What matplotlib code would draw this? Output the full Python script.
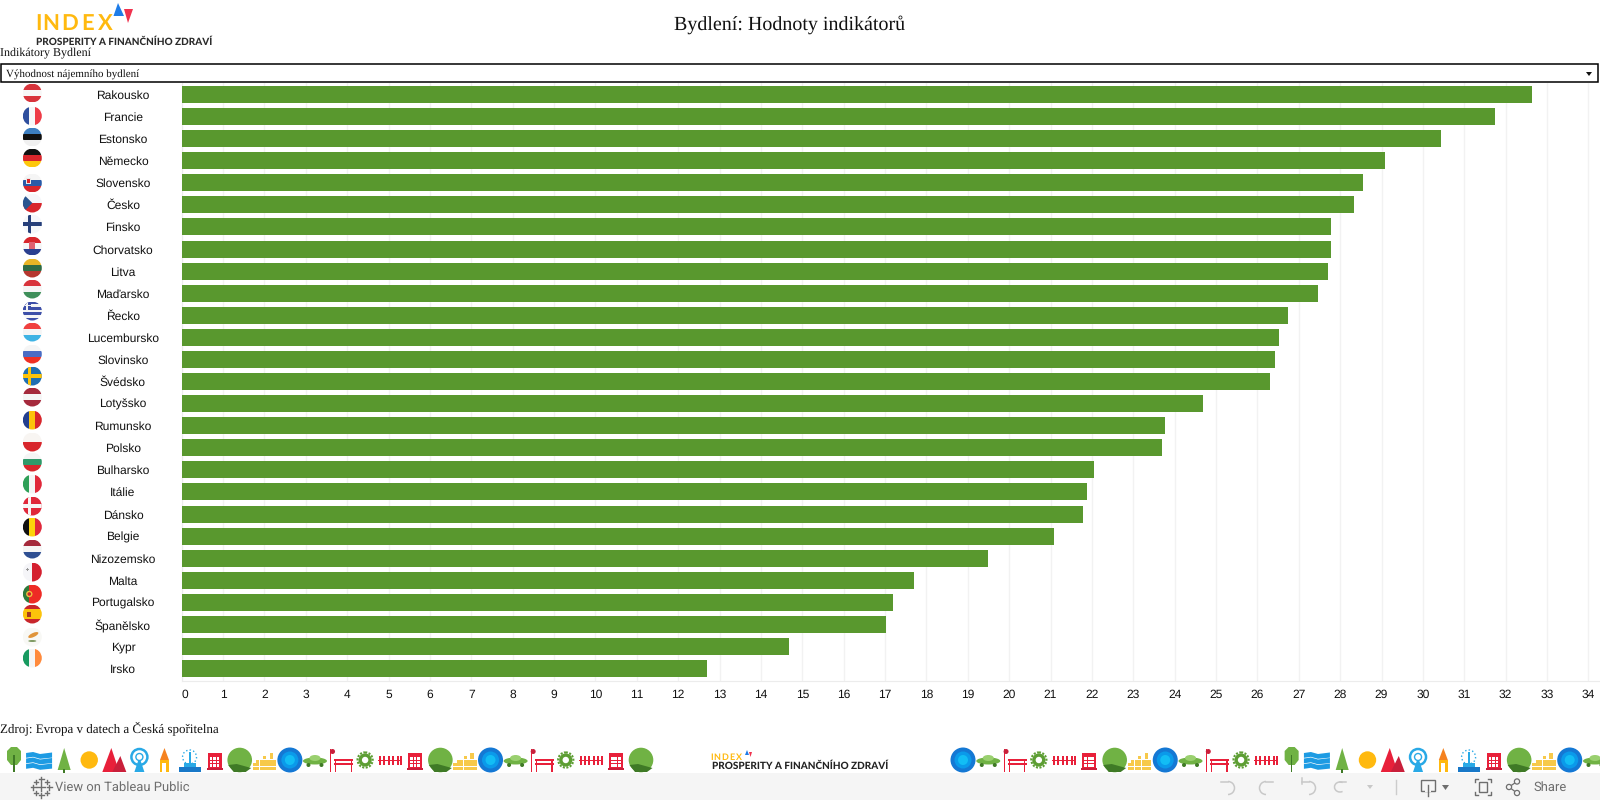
import matplotlib
matplotlib.use("Agg")
import matplotlib.pyplot as plt
from matplotlib.patches import Arc, Circle, Rectangle, Polygon, Ellipse

plt.rcParams["text.hinting"] = "none"
plt.rcParams["text.hinting_factor"] = 1

countries = ["Rakousko", "Francie", "Estonsko", "Německo", "Slovensko", "Česko", "Finsko",
             "Chorvatsko", "Litva", "Maďarsko", "Řecko", "Lucembursko", "Slovinsko", "Švédsko",
             "Lotyšsko", "Rumunsko", "Polsko", "Bulharsko", "Itálie", "Dánsko", "Belgie",
             "Nizozemsko", "Malta", "Portugalsko", "Španělsko", "Kypr", "Irsko"]
values = [32.63, 31.74, 30.43, 29.08, 28.55, 28.33, 27.79, 27.79, 27.70, 27.47, 26.73, 26.53, 26.43,
          26.31, 24.68, 23.77, 23.70, 22.04, 21.87, 21.78, 21.08, 19.48, 17.70, 17.18, 17.03, 14.67, 12.70]
x_ticks = list(range(0, 35))

# flag: (center y in px, stripe direction, stripe colours, extra)
flags = [
    (93, "h", ["#d8343c", "#f7f7f7", "#d8343c"], None),
    (116, "v", ["#2f4f9e", "#f7f7f7", "#ee3b46"], None),
    (137, "h", ["#3d7fc1", "#111111", "#f0f0f0"], None),
    (158, "h", ["#111111", "#d8262c", "#fdc70c"], None),
    (183, "h", ["#f5f5f5", "#2a5ba8", "#d8262c"], "shield_sk"),
    (203, "h", ["#f5f7fa", "#d8262c"], "wedge"),
    (224, "h", ["#f5f7fa"], "cross_fi"),
    (246, "h", ["#d8262c", "#f5f5f5", "#2a3f8f"], "shield_hr"),
    (268, "h", ["#e8b426", "#2f6b45", "#b5372f"], None),
    (289, "h", ["#d8343c", "#f5f5f5", "#3f8f5a"], None),
    (311, "h", ["#3d4fa8", "#f5f5f5", "#3d4fa8", "#f5f5f5", "#3d4fa8", "#f5f5f5", "#3d4fa8"], "canton"),
    (332, "h", ["#f0403f", "#f5f5f5", "#3fb3e4"], None),
    (354, "h", ["#f5f5f5", "#4a6cc4", "#ee3024"], None),
    (376, "h", ["#1f6fb2"], "cross_se"),
    (397, "h", ["#a52a3c", "#f5f5f5", "#a52a3c"], None),
    (420, "v", ["#233f8f", "#fcc30b", "#d8262c"], None),
    (442, "h", ["#f8f5f2", "#d8262c"], None),
    (462, "h", ["#f5f5f5", "#2f9a6a", "#d8262c"], None),
    (484, "v", ["#2fa058", "#f5f5f5", "#e0283a"], None),
    (506, "h", ["#e0283a"], "cross_dk"),
    (527, "v", ["#111111", "#fcd20b", "#e0283a"], None),
    (549, "h", ["#a52a3c", "#f5f5f5", "#2f4f92"], None),
    (572, "v", ["#f5f5f8", "#d4202f"], "malta"),
    (594, "v", ["#2f7a3a", "#ee2b25", "#ee2b25"], "arms_pt"),
    (614, "h", ["#c8262c", "#fcc30b", "#fcc30b", "#c8262c"], "arms_es"),
    (637, "h", ["#f8f8f5"], "cyprus"),
    (658, "v", ["#189a60", "#f5f5f5", "#ff8a3c"], None),
]

strip_left = ["tree", "wave", "pine", "sun", "peaks", "ferris", "tower", "fountain", "phone", "hill",
              "dots", "pond", "car", "bench", "gear", "fence", "phone", "hill", "dots", "pond", "car",
              "bench", "gear", "fence", "phone", "hill"]
strip_right = ["pond", "car", "bench", "gear", "fence", "phone", "hill", "dots", "pond", "car", "bench",
               "gear", "fence", "tree", "wave", "pine", "sun", "peaks", "ferris", "tower", "fountain",
               "phone", "hill", "dots", "pond", "car"]

GREEN = "#59982e"
RED = "#e8203a"
BLUE = "#29a9e6"
YEL = "#ffb90f"
LEAF = "#70b244"
SERIF = "Liberation Serif"
SANS = "Liberation Sans"

fig = plt.figure(figsize=(16, 8), dpi=100, facecolor="white")

# main chart, axes placed in reference pixels
ax = fig.add_axes([181.7 / 1600, (800 - 681) / 800, (1600 - 181.7) / 1600, 598 / 800])
ypos = list(range(len(countries)))
ax.barh(ypos, values, height=0.77, color=GREEN, zorder=3)
ax.set_xlim(0, 34.28)
ax.set_ylim(26.56, -0.52)
ax.set_xticks(x_ticks)
ax.set_yticks(ypos)
ax.set_yticklabels(countries, ha="center", va="center_baseline", fontfamily=SANS, fontsize=8.9, color="#111111")
ax.tick_params(axis="y", length=0, pad=42.3)
ax.tick_params(axis="x", length=0, pad=6, labelsize=8.6, labelcolor="#111111")
for lab in ax.get_xticklabels():
    lab.set_fontfamily(SANS)
ax.get_xticklabels()[0].set_ha("left")
ax.grid(axis="x", color="#f2f2f2", lw=1, zorder=0)
for s in ["top", "right"]:
    ax.spines[s].set_visible(False)
for s in ["left", "bottom"]:
    ax.spines[s].set_color("#ececec")

# everything else is page furniture, drawn in pixel coords
pg = fig.add_axes([0, 0, 1, 1], facecolor="none")
pg.set_xlim(0, 1600)
pg.set_ylim(800, 0)
pg.axis("off")


def flag(cy, direction, cols, extra, cx=32.3, r=9.5):
    clip = Circle((cx, cy), r, transform=pg.transData)
    parts = []
    n = len(cols)
    for i, c in enumerate(cols):
        if direction == "h":
            parts.append(Rectangle((cx - r, cy - r + i * 2 * r / n), 2 * r, 2 * r / n, color=c, lw=0))
        else:
            parts.append(Rectangle((cx - r + i * 2 * r / n, cy - r), 2 * r / n, 2 * r, color=c, lw=0))
    if extra == "shield_sk":
        parts.append(Rectangle((cx - 6, cy - 5), 4.5, 6, color="#e8e8e8", lw=0))
        parts.append(Rectangle((cx - 5.2, cy - 4.2), 3, 4.4, color="#d8262c", lw=0))
    if extra == "shield_hr":
        parts.append(Rectangle((cx - 3, cy - 4), 6, 7, color="#e06070", lw=0))
    if extra == "canton":
        parts.append(Rectangle((cx - r, cy - r), 8, 8, color="#3d4fa8", lw=0))
        parts.append(Rectangle((cx - r, cy - r + 3), 8, 1.6, color="#f5f5f5", lw=0))
        parts.append(Rectangle((cx - r + 3.2, cy - r), 1.6, 8, color="#f5f5f5", lw=0))
    if extra == "wedge":
        parts.append(Polygon([(cx - r, cy - r), (cx, cy), (cx - r, cy + r)], color="#2a5590", lw=0))
    if extra in ("cross_fi", "cross_se", "cross_dk"):
        c = {"cross_fi": "#263f7a", "cross_se": "#fcc30b", "cross_dk": "#f5f5f5"}[extra]
        parts.append(Rectangle((cx - r, cy - 1.6), 2 * r, 3.2, color=c, lw=0))
        parts.append(Rectangle((cx - 4.5, cy - r), 3.2, 2 * r, color=c, lw=0))
    if extra == "malta":
        parts.append(Rectangle((cx - 6.5, cy - 3), 3, 1, color="#999999", lw=0))
        parts.append(Rectangle((cx - 5.5, cy - 4), 1, 3, color="#999999", lw=0))
    if extra == "arms_pt":
        parts.append(Circle((cx - 3, cy), 3.2, color="#f0c040", lw=0))
        parts.append(Circle((cx - 3, cy), 1.8, color="#c8262c", lw=0))
    if extra == "arms_es":
        parts.append(Rectangle((cx - 5.5, cy - 2.5), 4, 5, color="#a83a20", lw=0))
    if extra == "cyprus":
        parts.append(Ellipse((cx + 1, cy - 2), 11, 4, angle=-25, color="#e0943a", lw=0))
        parts.append(Ellipse((cx, cy + 4), 8, 2, color="#7f9a62", lw=0))
    for p in parts:
        pg.add_patch(p)
        p.set_clip_path(clip)


for f in flags:
    flag(*f)


def tri(pts, c, z=2):
    pg.add_patch(Polygon(pts, closed=True, color=c, lw=0, zorder=z))


def box(x, y, w, h, c, z=2):
    pg.add_patch(Rectangle((x, y), w, h, color=c, lw=0, zorder=z))


def disc(x, y, r, c, z=2):
    pg.add_patch(Circle((x, y), r, color=c, lw=0, zorder=z))


def icon(kind, x):
    if kind == "tree":
        tri([(x - 7, 751), (x - 3, 747), (x + 3, 747), (x + 7, 751), (x + 7, 760), (x + 3, 765), (x - 3, 765), (x - 7, 760)], LEAF)
        box(x - 0.6, 755, 1.2, 17, "#3f7a26", 3)
    elif kind == "wave":
        for y0 in (753, 758.5, 764):
            tri([(x - 13, y0), (x - 6, y0 - 1), (x + 1, y0 + 1), (x + 13, y0 - 0.5), (x + 13, y0 + 4.6),
                 (x + 1, y0 + 5.8), (x - 6, y0 + 3.8), (x - 13, y0 + 4.8)], "#1d9be3")
    elif kind == "pine":
        tri([(x, 748), (x + 6.5, 770), (x - 6.5, 770)], LEAF)
        box(x - 0.8, 769, 1.6, 4, "#3f7a26")
    elif kind == "sun":
        disc(x, 760, 8.7, YEL)
    elif kind == "peaks":
        tri([(x - 12, 772), (x - 3, 748), (x + 5, 772)], "#e8203a")
        tri([(x - 2, 772), (x + 6, 756), (x + 12, 772)], "#c91f3a")
    elif kind == "ferris":
        pg.add_patch(Circle((x, 757), 8, fill=False, ec=BLUE, lw=1.8, zorder=2))
        disc(x, 757, 3.5, "#ffffff", 3)
        pg.add_patch(Circle((x, 757), 3.5, fill=False, ec=BLUE, lw=1, zorder=3))
        tri([(x - 5, 772), (x - 1, 760), (x + 1, 760), (x + 5, 772)], BLUE)
    elif kind == "tower":
        tri([(x, 748), (x + 4.5, 760), (x - 4.5, 760)], "#f58220")
        box(x - 4.5, 760, 9, 12, YEL)
        box(x - 2, 763, 4, 9, "#ffffff", 3)
    elif kind == "fountain":
        box(x - 11, 767, 22, 5, "#1878c8")
        box(x - 6, 763, 12, 4, BLUE)
        box(x - 1, 752, 2, 11, BLUE)
        pg.add_patch(Circle((x, 757), 7, fill=False, ec=BLUE, lw=1, ls=":", zorder=2))
    elif kind == "phone":
        box(x - 7, 753, 14, 17, "#e8203a")
        box(x - 8, 768, 16, 2, "#c91f3a")
        for yy in (757, 760.5, 764):
            for xx in (-5, -1.5, 2):
                box(x + xx, yy, 2.6, 2.6, "#ffffff", 3)
    elif kind == "hill":
        disc(x, 760, 12.3, LEAF)
        tri([(x - 11.5, 765), (x - 3, 764), (x + 11.5, 768), (x + 6, 772), (x - 6, 772)], "#3f7a26", 3)
    elif kind == "dots":
        for i, h in enumerate((2, 3, 3, 4, 3, 5, 3)):
            for j in range(h):
                box(x - 12 + i * 3.4, 766.5 - j * 3.4, 3.1, 3.1, "#f7c94a")
    elif kind == "pond":
        disc(x, 760, 12.5, "#1478d4")
        disc(x, 760, 8.5, "#0a9aea", 3)
        disc(x, 760, 5, "#12bdf5", 4)
    elif kind == "car":
        pg.add_patch(Ellipse((x, 761), 24, 7, color="#70b244", lw=0, zorder=2))
        pg.add_patch(Ellipse((x, 758), 11, 6, color="#9ad06f", lw=0, zorder=2))
        disc(x - 6.5, 765, 2, "#3f7a26", 3)
        disc(x + 6.5, 765, 2, "#3f7a26", 3)
    elif kind == "bench":
        box(x - 10, 749, 1.3, 23, RED)
        disc(x - 7.5, 751.5, 2.5, "#c91f3a")
        box(x - 6, 759, 19, 2, RED)
        box(x - 6, 763, 19, 2, RED)
        box(x - 5, 760, 1.4, 12, RED)
        box(x + 10.5, 760, 1.4, 12, RED)
    elif kind == "gear":
        pg.add_patch(Circle((x, 760), 7.6, fill=False, ec="#5d9e33", lw=1.5, ls=(0, (1, 0.7)), zorder=2))
        disc(x, 760, 6.6, "#5d9e33")
        disc(x, 760, 3.2, "#ffffff", 3)
    elif kind == "fence":
        box(x - 12, 759.5, 24, 1.8, RED)
        for dx in (-10, -6, -1.5, 3, 7.5, 11):
            box(x + dx - 1, 756, 2, 9, RED)


for i, k in enumerate(strip_left):
    icon(k, 14 + i * 25.08)
for i, k in enumerate(strip_right):
    icon(k, 963 + i * 25.28)
box(0, 772.7, 1600, 27.3, "#f5f5f5", 6)


def logo_word(x0, y, scale):
    # spaced letter by letter, the logo has wide tracking
    for ch, dx in zip("INDEX", (2, 15, 34, 51.5, 69.5)):
        pg.text(x0 + dx * scale, y, ch, family="Lato", weight="bold", fontsize=16 * scale, color=YEL, va="center", ha="center")


# header
pg.text(790, 25, "Bydlení: Hodnoty indikátorů", family=SERIF, fontsize=14.4, ha="center", va="center", color="#111111")
logo_word(36, 24, 1)
tri([(118, 3), (124, 16), (113.5, 16)], "#1e7ce8")
tri([(124, 9), (133, 9), (128, 23)], "#f0324e")
pg.text(35.5, 42, "PROSPERITY A FINANČNÍHO ZDRAVÍ", family="Lato", weight="black", fontsize=7.2,
        color="#2a2a2a", va="center", ha="left")
pg.text(0, 53, "Indikátory Bydlení", family=SERIF, fontsize=8.8, va="center", color="#111111")
pg.add_patch(Rectangle((1.2, 63.5), 1597, 18.5, fill=False, ec="black", lw=1.1))
pg.text(5.5, 74.5, "Výhodnost nájemního bydlení", family=SERIF, fontsize=8.1, va="center", color="#111111")
tri([(1586, 72), (1592, 72), (1589, 76)], "#111111")

# footer
pg.text(0, 728, "Zdroj: Evropa v datech a Česká spořitelna", family=SERIF, fontsize=9.35, va="center", color="#111111")
logo_word(711, 757, 0.4)
tri([(747, 750), (749, 755), (745, 755)], "#1e7ce8")
tri([(749, 752), (752, 752), (750.5, 757)], "#f0324e")
pg.text(712, 766, "PROSPERITY A FINANČNÍHO ZDRAVÍ", family="Lato", weight="black", fontsize=7.55, color="#222222", va="center")

# toolbar
GREY = "#6e6e6e"
LIGHT = "#c8c8c8"
pg.text(55, 787, "View on Tableau Public", family="Roboto", fontsize=9.5, color=GREY, va="center", zorder=8)
pg.text(1533, 787, "Share", family="Roboto", fontsize=9.7, color=GREY, va="center", zorder=8)
for px, py, s in [(41, 787, 4), (41, 779, 2.5), (41, 795, 2.5), (33, 787, 2.5), (49, 787, 2.5),
                  (35.5, 781.5, 2), (46.5, 781.5, 2), (35.5, 792.5, 2), (46.5, 792.5, 2)]:
    pg.plot([px - s, px + s], [py, py], color=GREY, lw=1, zorder=8)
    pg.plot([px, px], [py - s, py + s], color=GREY, lw=1, zorder=8)
# undo, redo, back, forward
for x0, a1, a2 in ((1228, -90, 90), (1266, 90, 270), (1309, -90, 90)):
    pg.add_patch(Arc((x0, 788), 13, 13, theta1=a1, theta2=a2, ec=LIGHT, lw=1.1, zorder=8))
    sign = 1 if a1 == -90 else -1
    pg.plot([x0 - sign * 7, x0], [781.5, 781.5], color=LIGHT, lw=1.1, zorder=8)
pg.plot([1302, 1302], [778, 784], color=LIGHT, lw=1.1, zorder=8)
pg.add_patch(Arc((1340, 787), 11, 10, theta1=60, theta2=300, ec=LIGHT, lw=1.1, zorder=8))
pg.plot([1340, 1346], [782, 782], color=LIGHT, lw=1.1, zorder=8)
tri([(1367, 785), (1373, 785), (1370, 789)], LIGHT, 8)
pg.plot([1396, 1396], [780, 794], color="#cccccc", lw=1, zorder=8)
# download
pg.add_patch(Rectangle((1421, 780), 14, 11, fill=False, ec=GREY, lw=1, zorder=8))
box(1425, 790, 6, 2, "#f5f5f5", 8)
pg.plot([1428, 1428], [785, 796], color=GREY, lw=1, zorder=8)
tri([(1442, 785), (1449, 785), (1445.5, 790)], GREY, 8)
# fullscreen brackets
pg.add_patch(Rectangle((1479, 782), 8, 10, fill=False, ec=GREY, lw=1, zorder=8))
for xa, xb in ((1475, 1478), (1491, 1488)):
    for ya, yb in ((779, 782), (795, 792)):
        pg.plot([xb, xa, xa], [ya, ya, yb], color=GREY, lw=1, zorder=8)
# share
pg.plot([1517, 1509, 1517], [781.5, 787, 793], color=GREY, lw=0.9, zorder=8)
for cx, cy in ((1517, 781.5), (1509, 787), (1517, 793)):
    pg.add_patch(Circle((cx, cy), 2.6, fc="#f5f5f5", ec=GREY, lw=0.9, zorder=9))

fig.savefig("out.png", dpi=100)
